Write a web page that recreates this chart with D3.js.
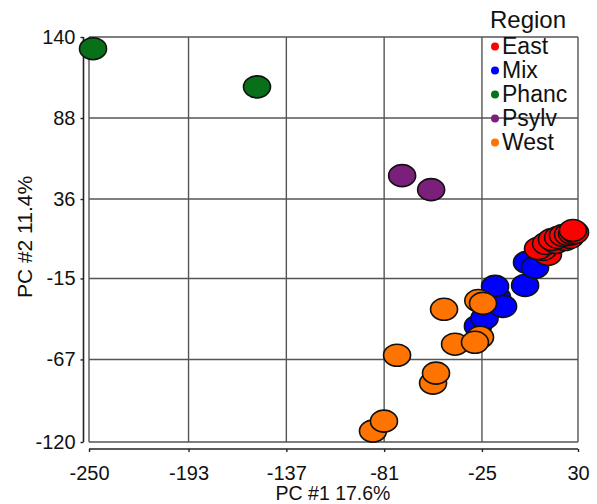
<!DOCTYPE html>
<html>
<head>
<meta charset="utf-8">
<script src="https://cdn.jsdelivr.net/npm/d3@7"></script>
<style>
  html, body { margin: 0; padding: 0; background: #fff; }
  svg { display: block; font-family: "Liberation Sans", Arial, sans-serif; }
</style>
</head>
<body>
<svg id="chart" width="597" height="504"></svg>
<script>
// ---- data ----
const regions = ["East", "Mix", "Phanc", "Psylv", "West"];
const regionColors = ["#ff0000", "#0000ff", "#087018", "#7a1f7a", "#ff7400"];
const xTickValues = [-250, -193, -137, -81, -25, 30];
const yTickValues = [140, 88, 36, -15, -67, -120];
const xTitle = "PC #1 17.6%";
const yTitle = "PC #2 11.4%";
const legendTitle = "Region";

const mixPoints = [[-27.3, -45.7], [-23.5, -40.5], [-16.4, -27.1], [-17.5, -20.1], [-12.9, -32.9], [-0.3, -19.5], [0.8, -4.7], [5.4, -7.9]];
const westPoints = [[-46.7, -34.8], [-27.1, -29.2], [-24.4, -31.0], [-40.4, -57.2], [-26.1, -52.8], [-29.0, -56.0], [-73.6, -64.3], [-53.0, -82.2], [-51.3, -75.8], [-87.4, -113.0], [-81.1, -106.6]];
const eastPoints = [[12.8, 0.4], [10.0, 3.6], [7.1, 4.2], [11.7, 7.4], [17.4, 8.1], [15.1, 10.0], [22.6, 10.0], [18.6, 11.3], [25.4, 11.3], [21.4, 12.6], [24.3, 13.2], [26.6, 13.8], [28.3, 14.5], [27.1, 15.8]];
const phancPoints = [[-247.7, 132.5], [-153.8, 108.0]];
const psylvPoints = [[-70.7, 51.0], [-54.1, 42.0]];

// ---- scales ----
const svg = d3.select("#chart");
const x = d3.scaleLinear().domain([-250, 30]).range([89, 578]);
const y = d3.scaleLinear().domain([-120, 140]).range([442, 37]);
const color = d3.scaleOrdinal().domain(regions).range(regionColors);

// ---- grid ----
const grid = svg.append("g");
grid.selectAll("line.v").data(xTickValues).join("line")
  .attr("x1", d => x(d)).attr("x2", d => x(d))
  .attr("y1", y(140)).attr("y2", y(-120))
  .attr("stroke", "#555").attr("stroke-width", 1.4);
grid.selectAll("line.h").data(yTickValues).join("line")
  .attr("y1", d => y(d)).attr("y2", d => y(d))
  .attr("x1", x(-250)).attr("x2", x(30))
  .attr("stroke", "#555").attr("stroke-width", 1.4);

// ---- axes ----
const fmt = d => String(d);
const xAxis = svg.append("g").attr("transform", "translate(0,449)")
  .call(d3.axisBottom(x).tickValues(xTickValues).tickFormat(fmt).tickSizeInner(3).tickSizeOuter(0).tickPadding(14));
const yAxis = svg.append("g").attr("transform", "translate(83.5,0)")
  .call(d3.axisLeft(y).tickValues(yTickValues).tickFormat(fmt).tickSizeInner(3).tickSizeOuter(0).tickPadding(5));
[xAxis, yAxis].forEach(a => {
  a.select(".domain").attr("stroke", "#222").attr("stroke-width", 1.6);
  a.selectAll(".tick line").attr("stroke", "#222").attr("stroke-width", 1.4);
  a.selectAll(".tick text").attr("font-size", 20).attr("fill", "#111")
    .attr("font-family", "'Liberation Sans', Arial, sans-serif");
});
xAxis.select(".domain").attr("d", `M${x(-250)},0H${x(30)}`);
yAxis.select(".domain").attr("d", `M0,${y(140)}V${y(-120)}`);

svg.append("text").attr("x", 333).attr("y", 499.5).attr("text-anchor", "middle")
  .attr("font-size", 19.5).attr("fill", "#111").text(xTitle);
svg.append("text").attr("transform", "translate(32,237) rotate(-90)").attr("text-anchor", "middle")
  .attr("font-size", 21).attr("fill", "#111").text(yTitle);

// ---- points ----
const groups = [["Mix", mixPoints], ["West", westPoints], ["East", eastPoints], ["Phanc", phancPoints], ["Psylv", psylvPoints]];
const pts = svg.append("g");
groups.forEach(([name, arr]) => {
  pts.append("g").selectAll("ellipse").data(arr).join("ellipse")
    .attr("cx", d => x(d[0])).attr("cy", d => y(d[1]))
    .attr("rx", 13.5).attr("ry", 11)
    .attr("fill", color(name)).attr("stroke", "#111").attr("stroke-width", 1.6);
});

// ---- legend ----
const lg = svg.append("g");
lg.append("text").attr("x", 490).attr("y", 28).attr("font-size", 24).attr("fill", "#111").text(legendTitle);
const items = lg.selectAll("g.item").data(regions).join("g")
  .attr("transform", (d, i) => `translate(0,${54 + i * 24})`);
items.append("circle").attr("cx", 495).attr("cy", -7.5).attr("r", 4).attr("fill", d => color(d));
items.append("text").attr("x", 502).attr("y", 0).attr("font-size", 23).attr("fill", "#111").text(d => d);
</script>
</body>
</html>
